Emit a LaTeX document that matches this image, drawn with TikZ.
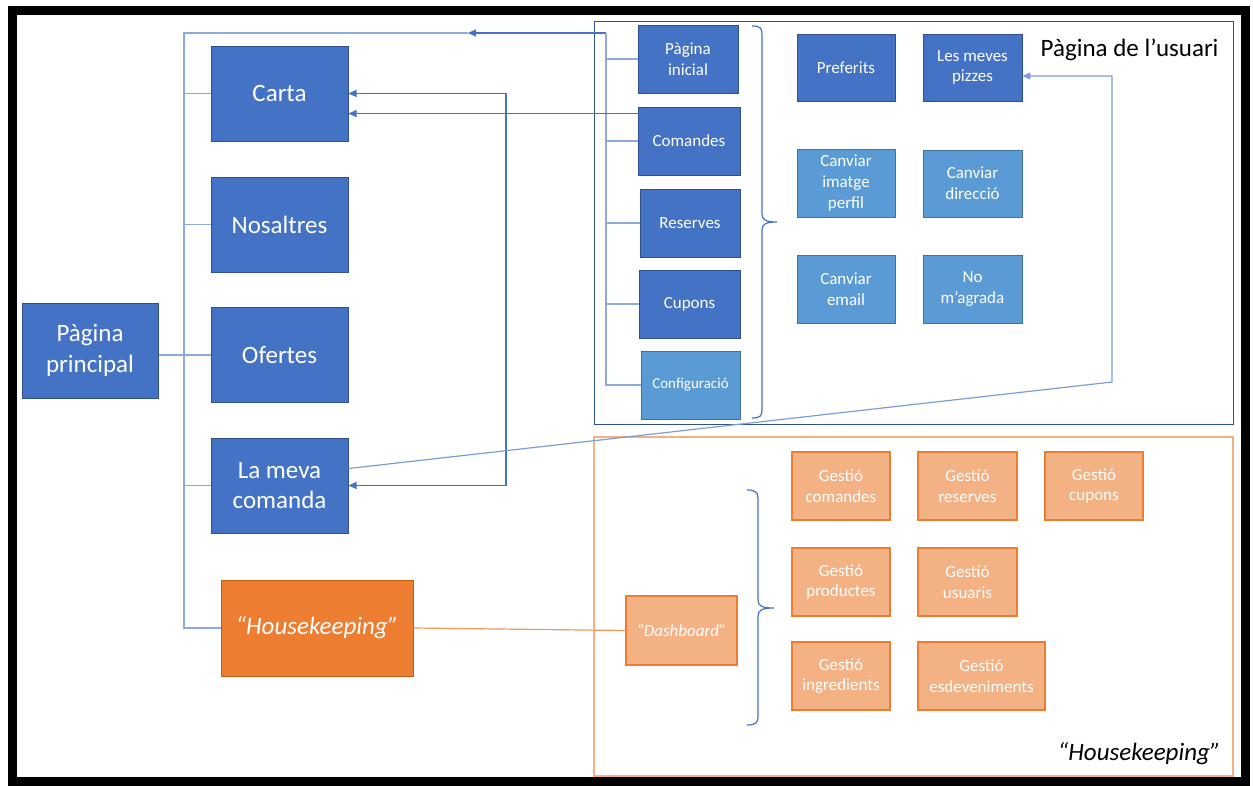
\documentclass[tikz,border=0pt]{standalone}
\usepackage{fontspec}
\setmainfont{Carlito}
\usetikzlibrary{arrows.meta,calc}
\definecolor{bluedark}{HTML}{4472C4}
\definecolor{blueedge}{HTML}{2F528F}
\definecolor{bluelight}{HTML}{5B9BD5}
\definecolor{bluelightedge}{HTML}{41719C}
\definecolor{orng}{HTML}{ED7D31}
\definecolor{orngedge}{HTML}{C55A11}
\definecolor{orngl}{HTML}{F4B183}
\definecolor{treeline}{HTML}{8EA9DB}
\begin{document}
\begin{tikzpicture}[x=1pt,y=-1pt,
  big/.style={draw=blueedge, fill=bluedark, line width=1pt, text=white, align=center,
    inner sep=0pt, minimum width=137pt, minimum height=95pt, font=\fontsize{25}{30.5}\selectfont},
  small/.style={draw=blueedge, fill=bluedark, line width=0.8pt, text=white, align=center,
    inner sep=0pt, minimum width=100pt, minimum height=68pt, font=\fontsize{17}{20.8}\selectfont},
  lightb/.style={small, fill=bluelight, draw=bluelightedge},
  gest/.style={small, fill=orngl, draw=orng, line width=1.2pt, minimum width=98pt},
  tree/.style={draw=treeline, line width=1.2pt},
  link/.style={draw=bluedark, line width=1.2pt},
  tip/.style={-{Triangle[length=8pt,width=7pt]}},
  brace/.style={draw=bluedark, line width=1.2pt},
]
\useasboundingbox (0,0) rectangle (1253,785);

% outer frame
\draw[line width=8.5pt] (12.25,10.5) rectangle (1245.5,781.5);

% group frames
\draw[draw=blueedge, line width=1pt] (594,21) rectangle (1233,424);
\draw[draw=orngl, line width=1.2pt] (594,437) rectangle (1233,776);
\node[anchor=base east, font=\fontsize{25}{30}\selectfont] (userlbl) at (1222,56) {Pàgina de l’usuari};
\node[anchor=base east, font=\fontsize{25}{30}\selectfont\itshape] (hklbl) at (1224,760) {“Housekeeping”};

% main column
\node[big, minimum width=136pt] (princ) at (90,350.5) {Pàgina\\principal};
\node[big] (carta) at (279.5,93.5) {Carta};
\node[big] (nos) at (279.5,224.5) {Nosaltres};
\node[big] (ofe) at (279.5,355) {Ofertes};
\node[big] (lmc) at (279.5,485.5) {La meva\\comanda};
\node[big, fill=orng, draw=orngedge, minimum width=192pt, minimum height=96pt,
      font=\fontsize{25}{30.5}\selectfont\itshape] (hk) at (317,628) {“Housekeeping”};

% user page sections
\node[small] (pinicial) at (688,59) {Pàgina\\inicial};
\node[small, minimum width=102pt] (comandes) at (689,141) {Comandes};
\node[small] (reserves) at (690,223) {Reserves};
\node[small, minimum width=101pt] (cupons) at (689.5,304) {Cupons};
\node[lightb, minimum width=99pt, font=\fontsize{15}{18}\selectfont] (config) at (690.5,385) {Configuració};

\node[small, minimum width=98pt, minimum height=67pt] (pref) at (846,67.5) {Preferits};
\node[small, minimum width=99pt, minimum height=67pt] (pizzes) at (972.5,67.5) {Les meves\\pizzes};
\node[lightb, minimum width=98pt] (imatge) at (846,183) {Canviar\\imatge\\perfil};
\node[lightb, minimum width=99pt, minimum height=67pt] (direccio) at (972.5,183.5) {Canviar\\direcció};
\node[lightb, minimum width=98pt] (email) at (846,289) {Canviar\\email};
\node[lightb, minimum width=99pt] (magrada) at (972.5,289) {No\\m’agrada};

% housekeeping sections
\node[gest, minimum width=111pt, minimum height=69pt, font=\fontsize{17}{20.8}\selectfont\itshape] (dash) at (681.5,630.5) {“Dashboard”};
\node[gest] (gc) at (841,486) {Gestió\\comandes};
\node[gest, minimum width=99pt] (gr) at (967.5,486) {Gestió\\reserves};
\node[gest] (gcu) at (1094,486) {Gestió\\cupons};
\node[gest] (gp) at (841,582) {Gestió\\productes};
\node[gest, minimum width=99pt] (gu) at (967.5,582) {Gestió\\usuaris};
\node[gest] (gi) at (841,676) {Gestió\\ingredients};
\node[gest, minimum width=127pt] (ge) at (981.5,676) {Gestió\\esdeveniments};

% main tree
\coordinate (sptop) at (184,33);
\coordinate (ujoin) at (468,33);
\coordinate (utop) at (606,33);
\draw[tree] (hk.west) -| (sptop) -- (ujoin);
\draw[tree] (sptop |- carta) -- (carta.west);
\draw[tree] (sptop |- nos) -- (nos.west);
\draw[tree] (sptop |- lmc) -- (lmc.west);
\draw[tree] (princ.east |- ofe) -- (ofe.west);

% user page tree
\draw[link, tip] (utop) -- (ujoin);
\draw[tree] (utop) |- (config.west);
\draw[tree] (utop |- pinicial) -- (pinicial.west);
\draw[tree] (utop |- comandes) -- (comandes.west);
\draw[tree] (utop |- reserves) -- (reserves.west);
\draw[tree] (utop |- cupons) -- (cupons.west);

% cross links
\coordinate (ret) at (506,300);
\draw[link, {Triangle[length=8pt,width=7pt]}-{Triangle[length=8pt,width=7pt]}] (carta.east) -| (ret) |- (lmc.east);
\draw[link, tip] ($(comandes.north west)+(0,7)$) -- (carta.east |- {$(comandes.north west)+(0,7)$});
\coordinate (bend) at (1112,382);
\draw[tree, tip, draw=bluedark!70] ($(lmc.north east)+(0,31)$) -- (bend) |- ($(pizzes.east)+(0,8.5)$);

% braces
\draw[brace] (752,26) .. controls (760,26) and (762,28) .. (762,34) -- (762,214)
  .. controls (762,220) and (766,222) .. (777,222)
  .. controls (766,222) and (762,224) .. (762,230) -- (762,410)
  .. controls (762,416) and (760,418) .. (752,418);
\draw[brace] (747,490) .. controls (755,490) and (758,492) .. (758,498) -- (758,600)
  .. controls (758,606) and (762,608) .. (774,608)
  .. controls (762,608) and (758,610) .. (758,616) -- (758,717)
  .. controls (758,723) and (755,725) .. (747,725);

% housekeeping link
\draw[draw=orng!80, line width=1.2pt] (hk.east) -- (dash.west);
\end{tikzpicture}
\end{document}
